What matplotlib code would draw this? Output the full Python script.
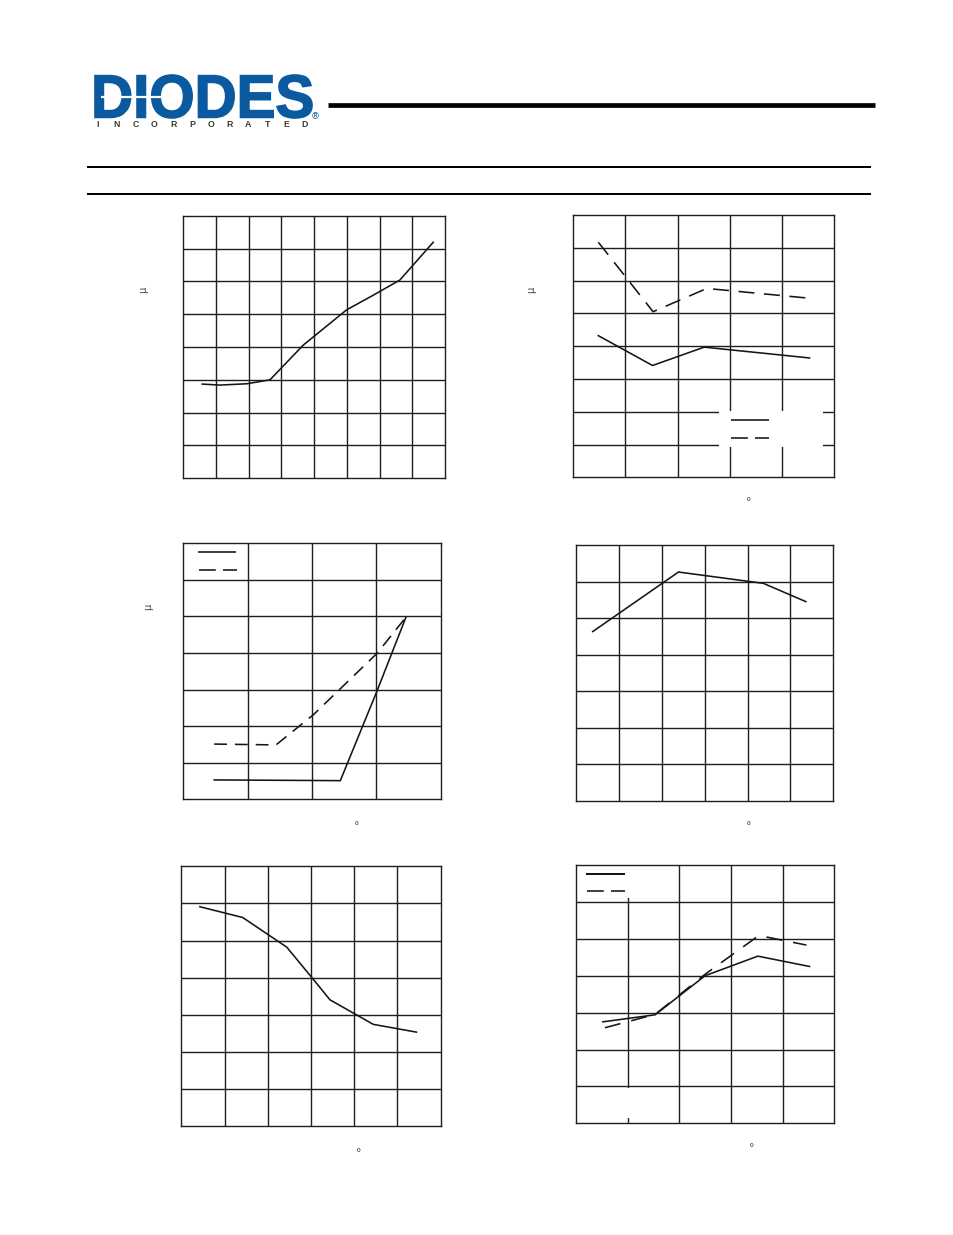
import matplotlib
matplotlib.use("Agg")
import matplotlib.pyplot as plt
from matplotlib.patches import Rectangle, PathPatch
from matplotlib.textpath import TextPath
from matplotlib.font_manager import FontProperties
from matplotlib.transforms import Affine2D

W, H = 954, 1235

# curve values (grid units)
p1_x = [0.58, 1.12, 1.94, 2.65, 3.67, 4.99, 5.81, 6.62, 7.64]
p1_y = [2.87, 2.84, 2.88, 3.00, 4.06, 5.13, 5.58, 6.04, 7.19]

p2_x = [0.48, 1.52, 2.51, 4.53]
p2_solid = [4.32, 3.41, 3.97, 3.64]
p2_dash_x = [0.48, 1.53, 2.56, 4.54]
p2_dash = [7.17, 5.05, 5.76, 5.46]

p3_x = [0.48, 2.44, 3.01, 3.46]
p3_solid = [0.53, 0.51, 2.96, 4.98]
p3_dash_x = [0.48, 1.32, 1.45, 2.02, 3.01, 3.46]
p3_dash = [1.51, 1.49, 1.50, 2.31, 3.99, 4.98]

p4_x = [0.39, 2.39, 4.37, 5.36]
p4_y = [4.63, 6.26, 5.95, 5.45]

p5_x = [0.43, 1.42, 2.44, 3.02, 3.44, 4.44, 5.44]
p5_y = [5.91, 5.62, 4.82, 4.00, 3.40, 2.74, 2.53]

p6_x = [0.52, 1.53, 2.50, 3.52, 4.52]
p6_solid = [2.75, 2.94, 4.00, 4.53, 4.25]
p6_dash_x = [0.56, 1.53, 2.50, 3.54, 4.46]
p6_dash = [2.59, 2.95, 4.04, 5.09, 4.83]

INK = "#151515"
GRID = "#1e1e1e"
PT = 0.72  # points per pixel at 100 dpi

fig = plt.figure(figsize=(9.54, 12.35), dpi=100)

# page overlay in pixel coordinates
bg = fig.add_axes([0, 0, 1, 1])
bg.set_xlim(0, W)
bg.set_ylim(H, 0)
bg.axis("off")

bg.plot([328, 875], [104.5, 104.5], color="black", lw=4.7 * PT, solid_capstyle="butt")
bg.plot([87, 871], [167, 167], color="black", lw=2 * PT, solid_capstyle="butt")
bg.plot([87, 871], [194.3, 194.3], color="black", lw=2 * PT, solid_capstyle="butt")

# logo
blue = "#0b5aa0"
tp = TextPath((0, 0), "DIODES", size=50,
              prop=FontProperties(family="Liberation Sans", weight="bold"))
ex = tp.get_extents()
sx = (312 - 95) / ex.width
sy = (118 - 75) / ex.height
tr = Affine2D().translate(-ex.x0, -ex.y0).scale(sx, -sy).translate(95, 118)
bg.add_patch(PathPatch(tr.transform_path(tp), facecolor=blue, edgecolor=blue, lw=1.2))
bg.plot([101, 172], [97, 97], color="white", lw=2.2 * PT, solid_capstyle="butt")
bg.text(315, 117, "®", color=blue, fontsize=6.5, ha="center", va="center")
for i, ch in enumerate("INCORPORATED"):
    bg.text(98 + i * 18.8, 124.5, ch, color="#3a3a2e", fontsize=6.3,
            fontweight="bold", ha="center", va="center",
            family="Liberation Sans")

# leftover glyphs of the axis titles
for x, y in [(143, 290), (531, 290), (148, 607)]:
    bg.text(x, y, "µ", rotation=90, fontsize=7, color="#444444",
            ha="center", va="center")
for x, y in [(749, 502), (357, 826), (749, 826), (359, 1153), (752, 1148)]:
    bg.text(x, y, "°", fontsize=8, color="#555555", ha="center", va="center")


def panel(box, nx, ny):
    l, t, r, b = box
    ax = fig.add_axes([l / W, 1 - b / H, (r - l) / W, (b - t) / H])
    ax.set_xlim(0, nx)
    ax.set_ylim(0, ny)
    ax.set_xticks([])
    ax.set_yticks([])
    ax.patch.set_alpha(0)
    for s in ax.spines.values():
        s.set_linewidth(1.4 * PT)
        s.set_color(GRID)
    ax.vlines(range(1, nx), 0, ny, color=GRID, lw=1.4 * PT, zorder=1)
    ax.hlines(range(1, ny), 0, nx, color=GRID, lw=1.4 * PT, zorder=1)
    return ax


def blank(ax, x, y, w, h):
    ax.add_patch(Rectangle((x, y), w, h, facecolor="white", edgecolor="none", zorder=2))


def key(ax, x0, x1, y, dashed, lw=1.6):
    ln, = ax.plot([x0, x1], [y, y], color=INK, lw=lw * PT, zorder=4,
                  solid_capstyle="butt", dash_capstyle="butt")
    if dashed:
        ln.set_dashes((10.5, 4.5))


LW = 1.15

# panel 1
ax1 = panel((183.3, 215.7, 445, 478.3), 8, 8)
ax1.plot(p1_x, p1_y, color=INK, lw=LW, zorder=3)

# panel 2
ax2 = panel((573.3, 215, 834, 477.3), 5, 8)
ax2.plot(p2_x, p2_solid, color=INK, lw=LW, zorder=3)
ax2.plot(p2_dash_x, p2_dash, color=INK, lw=LW, zorder=3, dashes=(10, 6))
blank(ax2, 2.80, 0.93, 1.995, 1.10)
key(ax2, 3.02, 3.75, 1.75, False)
key(ax2, 3.02, 3.75, 1.20, True)

# panel 3
ax3 = panel((183.3, 543.3, 440.7, 799.3), 4, 7)
ax3.plot(p3_x, p3_solid, color=INK, lw=LW, zorder=3)
ax3.plot(p3_dash_x, p3_dash, color=INK, lw=LW, zorder=3, dashes=(8, 5))
key(ax3, 0.23, 0.82, 6.75, False)
key(ax3, 0.24, 0.83, 6.26, True)

# panel 4
ax4 = panel((576, 545, 833.3, 800.7), 6, 7)
ax4.plot(p4_x, p4_y, color=INK, lw=LW, zorder=3)

# panel 5
ax5 = panel((181.3, 866.3, 440.7, 1126), 6, 7)
ax5.plot(p5_x, p5_y, color=INK, lw=LW, zorder=3)

# panel 6
ax6 = panel((576, 865, 834.3, 1123.3), 5, 7)
ax6.plot(p6_x, p6_solid, color=INK, lw=LW, zorder=3)
ax6.plot(p6_dash_x, p6_dash, color=INK, lw=LW, zorder=3, dashes=(10, 7))
blank(ax6, 0.02, 6.11, 1.9, 0.86)
blank(ax6, 0.9, 0.14, 0.2, 0.83)
key(ax6, 0.19, 0.95, 6.76, False, lw=2.0)
key(ax6, 0.21, 0.95, 6.30, True)

fig.savefig("out.png", dpi=100)
